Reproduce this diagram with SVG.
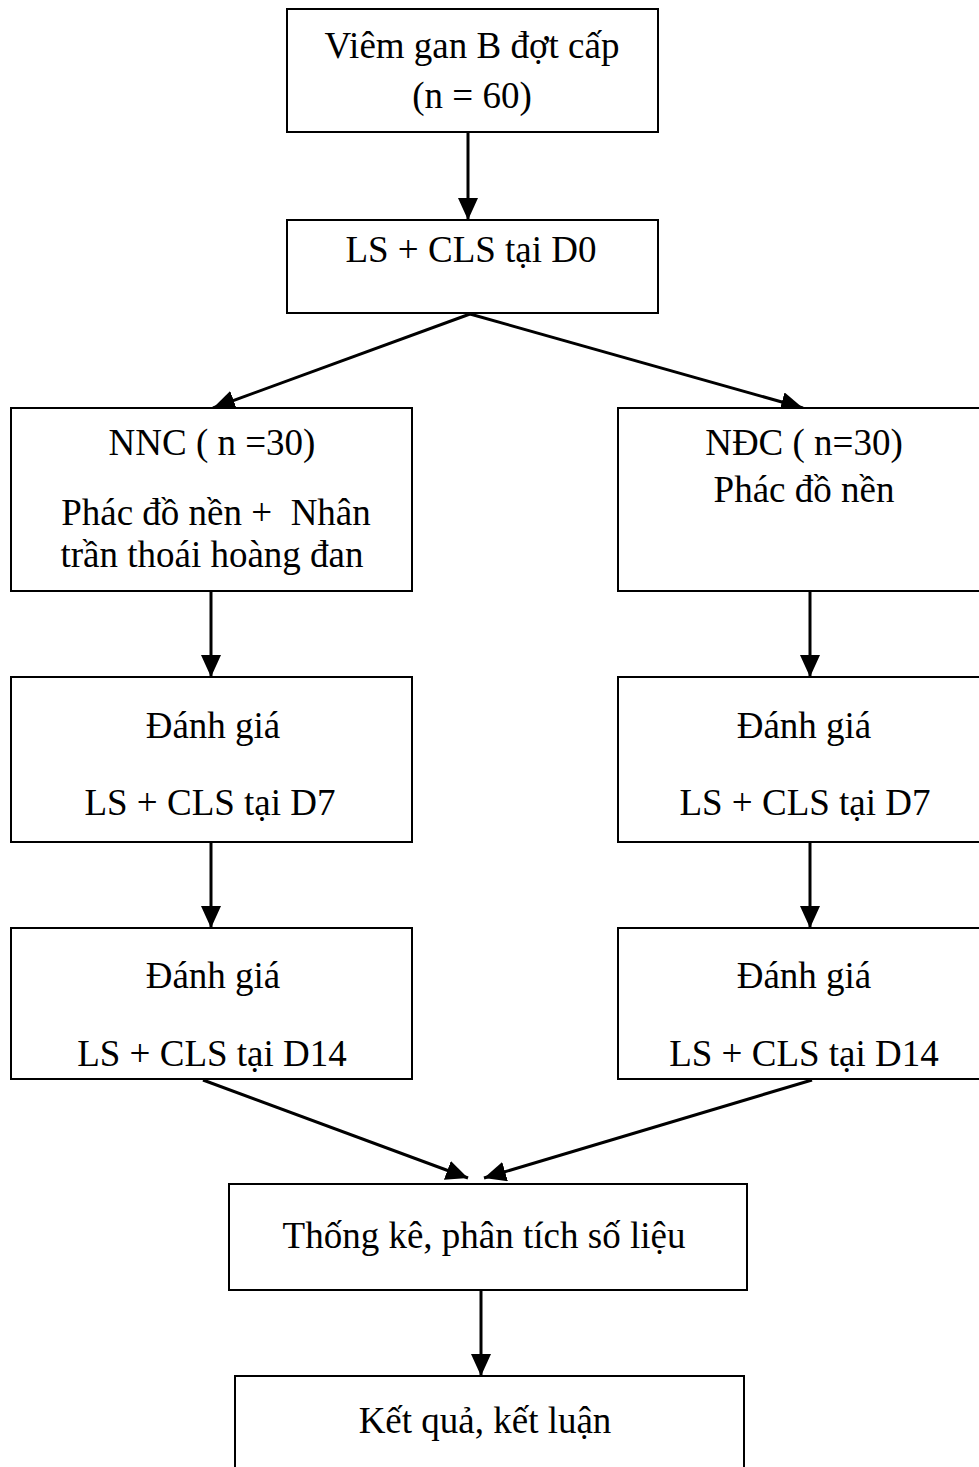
<svg xmlns="http://www.w3.org/2000/svg" width="979" height="1467" viewBox="0 0 979 1467">
<defs>
<style>
.box{fill:#fff;stroke:#000;stroke-width:2}
.t{font-family:"Liberation Serif","Times New Roman",serif;font-size:37px;fill:#000;text-anchor:middle}
.c{stroke:#000;stroke-width:3;fill:none;marker-end:url(#ah)}
</style>
<marker id="ah" markerUnits="userSpaceOnUse" markerWidth="24" markerHeight="20" refX="22" refY="10" orient="auto">
<path d="M0,0 L22,10 L0,20 z" fill="#000"/>
</marker>
</defs>
<rect width="979" height="1467" fill="#fff"/>
<g id="connectors">
<line class="c" x1="468" y1="133" x2="468" y2="220"/>
<line class="c" x1="470" y1="314" x2="213" y2="408"/>
<line class="c" x1="470" y1="314" x2="803" y2="408"/>
<line class="c" x1="211" y1="592" x2="211" y2="677"/>
<line class="c" x1="810" y1="592" x2="810" y2="677"/>
<line class="c" x1="211" y1="843" x2="211" y2="928"/>
<line class="c" x1="810" y1="843" x2="810" y2="928"/>
<line class="c" x1="203" y1="1080" x2="468" y2="1178"/>
<line class="c" x1="812" y1="1080" x2="484" y2="1178"/>
<line class="c" x1="481" y1="1291" x2="481" y2="1376"/>
</g>
<g id="n1"><rect class="box" x="287" y="9" width="371" height="123"/>
<text class="t" x="472" y="58">Viêm gan B đợt cấp</text>
<text class="t" x="472" y="108">(n = 60)</text></g>
<g id="n2"><rect class="box" x="287" y="220" width="371" height="93"/>
<text class="t" x="471" y="262">LS + CLS tại D0</text></g>
<g id="n3"><rect class="box" x="11" y="408" width="401" height="183"/>
<text class="t" x="212" y="455">NNC ( n =30)</text>
<text class="t" x="216" y="525" xml:space="preserve">Phác đồ nền +  Nhân</text>
<text class="t" x="212" y="567">trần thoái hoàng đan</text></g>
<g id="n4"><rect class="box" x="618" y="408" width="362" height="183"/>
<text class="t" x="804" y="455">NĐC ( n=30)</text>
<text class="t" x="804" y="502">Phác đồ nền</text></g>
<g id="n5"><rect class="box" x="11" y="677" width="401" height="165"/>
<text class="t" x="213" y="738">Đánh giá</text>
<text class="t" x="210" y="815">LS + CLS tại D7</text></g>
<g id="n6"><rect class="box" x="618" y="677" width="362" height="165"/>
<text class="t" x="804" y="738">Đánh giá</text>
<text class="t" x="805" y="815">LS + CLS tại D7</text></g>
<g id="n7"><rect class="box" x="11" y="928" width="401" height="151"/>
<text class="t" x="213" y="988">Đánh giá</text>
<text class="t" x="212" y="1066">LS + CLS tại D14</text></g>
<g id="n8"><rect class="box" x="618" y="928" width="362" height="151"/>
<text class="t" x="804" y="988">Đánh giá</text>
<text class="t" x="804" y="1066">LS + CLS tại D14</text></g>
<g id="n9"><rect class="box" x="229" y="1184" width="518" height="106"/>
<text class="t" x="484" y="1248">Thống kê, phân tích số liệu</text></g>
<g id="n10"><rect class="box" x="235" y="1376" width="509" height="100"/>
<text class="t" x="485" y="1433">Kết quả, kết luận</text></g>
</svg>
